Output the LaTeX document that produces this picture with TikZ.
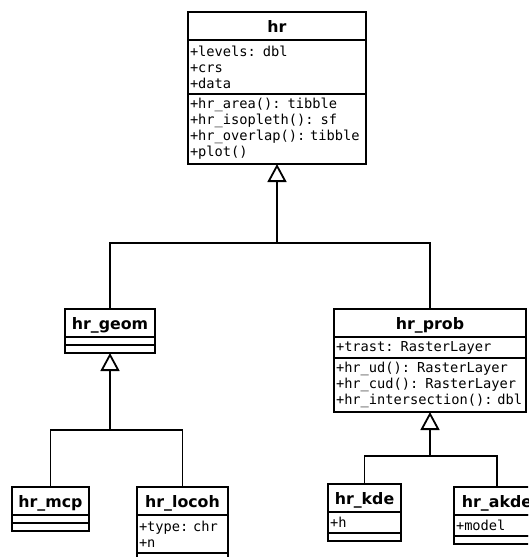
\documentclass[tikz,border=0pt]{standalone}
\usepackage{fontspec}
\setmainfont{DejaVu Sans}
\setmonofont{DejaVu Sans Mono}
\usepackage{tikz}
\usetikzlibrary{positioning}
\usetikzlibrary{arrows.meta}

\tikzset{
  classname/.style={rectangle, draw=black, line width=1.8pt, fill=white, outer sep=0pt, inner sep=0pt, minimum height=28pt, text height=12pt, text depth=0pt, font=\fontsize{15.8}{18}\selectfont\bfseries},
  classpart/.style={rectangle, draw=black, line width=1.8pt, fill=white, outer sep=0pt, inner xsep=2pt, inner ysep=0pt, align=left, font=\fontsize{13.7}{16}\selectfont\ttfamily},
  emptypart/.style={rectangle, draw=black, line width=1.8pt, fill=white, outer sep=0pt, inner sep=0pt, minimum height=8pt},
  inherit/.style={black, line width=1.8pt, -{Triangle[open, length=18pt, width=19pt]}},
  link/.style={black, line width=1.8pt},
}

\begin{document}
\begin{tikzpicture}[x=1pt, y=-1pt]

\useasboundingbox (0,0) rectangle (528,557);
\clip (0,0) rectangle (528,557);

% base class
\node at (277,12) [classname, minimum width=178pt, anchor=north] (hr) {hr};
\node [classpart, text width=174pt, minimum height=54pt, below=0pt of hr] (hr-attr) {+levels: dbl\\+crs\\+data};
\node [classpart, text width=174pt, minimum height=70pt, below=0pt of hr-attr] (hr-meth) {+hr\_area(): tibble\\+hr\_isopleth(): sf\\+hr\_overlap():~tibble\\+plot()};

% second level
\node at (110,309) [classname, minimum width=90pt, anchor=north] (geom) {hr\_geom};
\node [emptypart, minimum width=90pt, below=0pt of geom] (geom-attr) {};
\node [emptypart, minimum width=90pt, below=0pt of geom-attr] (geom-meth) {};

\node at (430,309) [classname, minimum width=192pt, anchor=north] (prob) {hr\_prob};
\node [classpart, text width=188pt, minimum height=21pt, below=0pt of prob] (prob-attr) {+trast: RasterLayer};
\node [classpart, text width=188pt, minimum height=54pt, below=0pt of prob-attr] (prob-meth) {+hr\_ud(): RasterLayer\\+hr\_cud(): RasterLayer\\+hr\_intersection():~dbl};

% third level
\node at (50.5,487) [classname, minimum width=77pt, anchor=north] (mcp) {hr\_mcp};
\node [emptypart, minimum width=77pt, below=0pt of mcp] (mcp-attr) {};
\node [emptypart, minimum width=77pt, below=0pt of mcp-attr] (mcp-meth) {};

\node at (182.5,487) [classname, minimum width=91pt, anchor=north] (locoh) {hr\_locoh};
\node [classpart, text width=87pt, minimum height=38pt, below=0pt of locoh] (locoh-attr) {+type:~chr\\+n};
\node [emptypart, minimum width=91pt, below=0pt of locoh-attr] (locoh-meth) {};

\node at (364.5,484) [classname, minimum width=73pt, anchor=north] (kde) {hr\_kde};
\node [classpart, text width=69pt, minimum height=21pt, below=0pt of kde] (kde-attr) {+h};
\node [emptypart, minimum width=73pt, below=0pt of kde-attr] (kde-meth) {};

\node at (497,487) [classname, minimum width=86pt, anchor=north] (akde) {hr\_akde};
\node [classpart, text width=82pt, minimum height=21pt, below=0pt of akde] (akde-attr) {+model};
\node [emptypart, minimum width=86pt, below=0pt of akde-attr] (akde-meth) {};

% inheritance
\coordinate (hr-join) at (hr-meth.south |- 0,243);
\draw[inherit] (hr-join) -- (hr-meth.south);
\draw[link] (geom.north) |- (hr-join) -| (prob.north);

\coordinate (geom-join) at (geom-meth.south |- 0,430);
\draw[inherit] (geom-join) -- (geom-meth.south);
\draw[link] (mcp.north) |- (geom-join) -| (locoh.north);

\coordinate (prob-join) at (prob-meth.south |- 0,456);
\draw[inherit] (prob-join) -- (prob-meth.south);
\draw[link] (kde.north) |- (prob-join) -| (akde.north);

\end{tikzpicture}
\end{document}
